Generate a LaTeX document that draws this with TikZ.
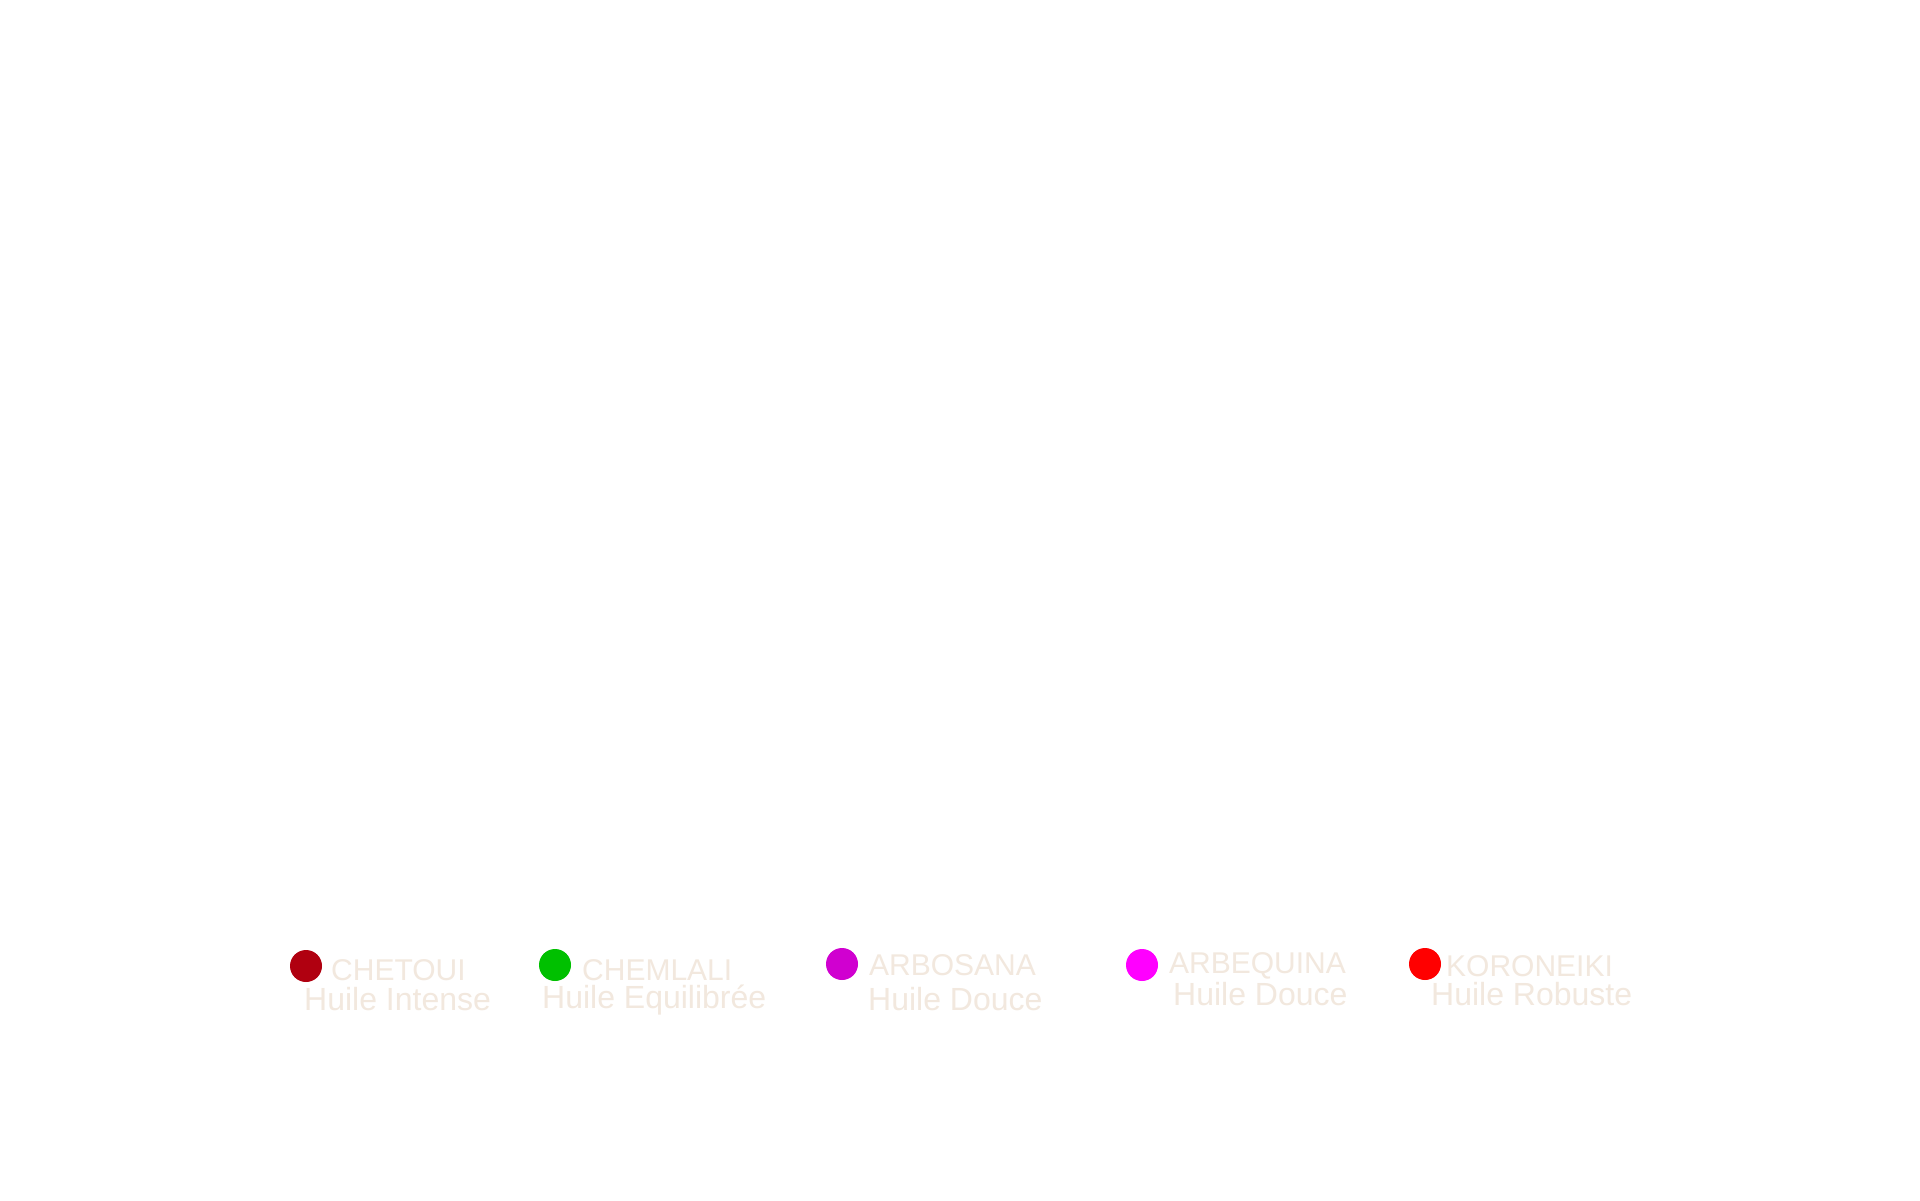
\documentclass[tikz,border=0pt]{standalone}
\usepackage{fontspec}
\setmainfont{Liberation Sans}
\usepackage{tikz}
\usetikzlibrary{positioning}
\definecolor{beige}{HTML}{F2E8DE}
\definecolor{chetoui}{HTML}{B00010}
\definecolor{chemlali}{HTML}{00C000}
\definecolor{arbosana}{HTML}{D000D0}
\definecolor{arbequina}{HTML}{FF00FF}
\definecolor{koroneiki}{HTML}{FF0000}
\tikzset{dot/.style={circle,inner sep=0pt,minimum size=32pt},
  varname/.style={anchor=west,inner sep=0pt,text=beige,font=\fontsize{30}{30}\selectfont},
  varkind/.style={anchor=west,inner sep=0pt,text=beige,font=\fontsize{32}{32}\selectfont}}
\begin{document}
\begin{tikzpicture}[x=1pt,y=-1pt]
  \useasboundingbox[fill=white] (0,0) rectangle (1920,1200);

  % legend
  \node[dot,fill=chetoui] (d1) at (306,966) {};
  \node[varname] (n1) at (331,970) {CHETOUI};
  \node[varkind] (k1) at (304,999) {Huile Intense};

  \node[dot,fill=chemlali] (d2) at (555,965) {};
  \node[varname] (n2) at (582,970) {CHEMLALI};
  \node[varkind] (k2) at (542,1000) {Huile Equilibrée};

  \node[dot,fill=arbosana] (d3) at (842,964) {};
  \node[varname] (n3) at (869,965) {ARBOSANA};
  \node[varkind] (k3) at (868,999) {Huile Douce};

  \node[dot,fill=arbequina] (d4) at (1142,965) {};
  \node[varname] (n4) at (1169,966) {ARBEQUINA};
  \node[varkind] (k4) at (1173,994) {Huile Douce};

  \node[dot,fill=koroneiki] (d5) at (1425,964) {};
  \node[varname] (n5) at (1446,966) {KORONEIKI};
  \node[varkind] (k5) at (1431,994) {Huile Robuste};
\end{tikzpicture}
\end{document}
